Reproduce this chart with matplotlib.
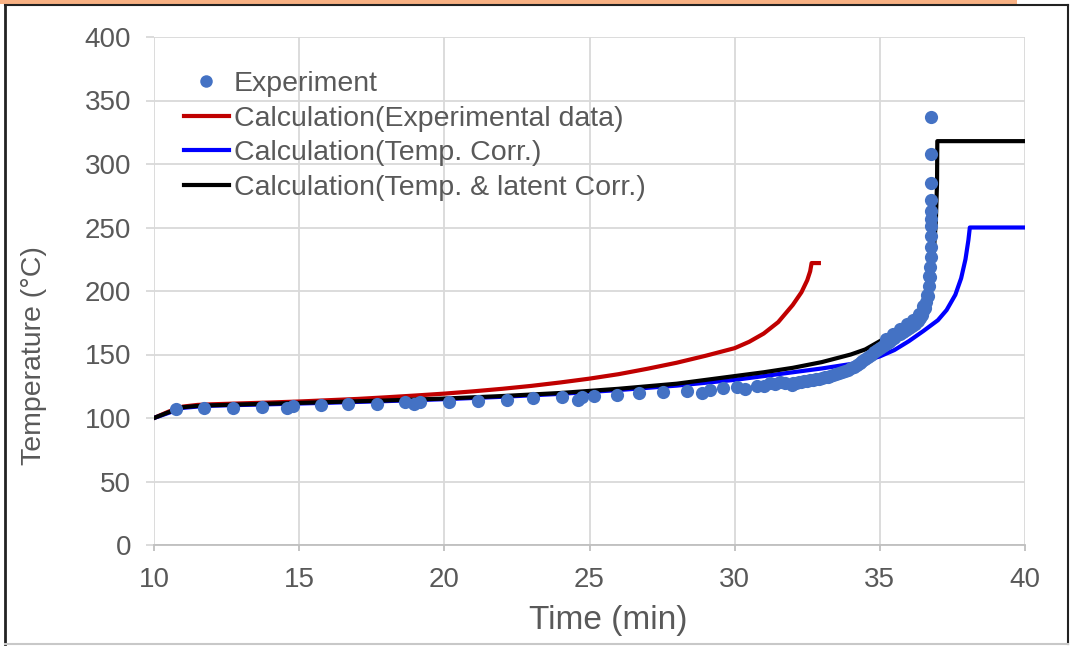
import matplotlib.pyplot as plt
from matplotlib.patches import Rectangle
from matplotlib.lines import Line2D

# Experiment (time in min, temperature in degC)
exp_time = [10.75, 11.73, 12.73, 13.73, 14.57, 14.80, 15.75, 16.69, 17.69, 18.64,
            18.95, 19.16, 20.16, 21.15, 22.15, 23.06, 24.04, 24.61, 24.73, 25.15,
            25.96, 26.70, 27.54, 28.35, 28.86, 29.15, 29.59, 30.07, 30.36, 30.76,
            31.00, 31.22, 31.40, 31.56, 31.75, 31.97,
            32.0, 32.1, 32.2, 32.3, 32.4, 32.5, 32.6, 32.7, 32.8, 32.9,
            33.0, 33.1, 33.2, 33.3, 33.4, 33.5, 33.6, 33.7, 33.8, 33.9,
            34.0, 34.1, 34.2, 34.3, 34.4, 34.5, 34.6, 34.7, 34.8, 34.9,
            35.0, 35.1, 35.2, 35.3, 35.4, 35.5, 35.6, 35.7, 35.8, 35.9,
            36.0, 36.1, 36.2, 36.3, 36.4, 36.45, 36.5, 36.55, 36.6, 36.65,
            36.7, 36.72, 36.74, 36.75, 36.76, 36.77, 36.77, 36.77, 36.77, 36.77,
            36.77, 36.77, 36.77,
            35.2, 35.45, 35.7, 35.95, 36.15, 36.35, 36.5, 36.62, 36.7]
exp_temp = [106.8, 107.6, 107.6, 108.4, 107.6, 109.4, 110.2, 111.0, 111.0, 112.3,
            111.0, 112.3, 112.8, 113.6, 114.2, 115.5, 116.3, 114.2, 116.8, 117.6,
            118.5, 119.5, 120.7, 121.5, 119.5, 122.0, 123.3, 124.2, 122.6, 125.2,
            125.5, 127.3, 127.0, 128.6, 127.5, 126.0,
            127.5, 127.9, 128.3, 128.7, 129.1, 129.5, 129.9, 130.3, 130.7, 131.1,
            131.5, 132.0, 132.5, 133.0, 133.7, 134.5, 135.3, 136.2, 137.1, 138.0,
            139.0, 140.2, 141.5, 143.0, 145.0, 146.7, 148.4, 150.0, 152.0, 153.5,
            155.0, 156.8, 158.5, 160.0, 161.7, 163.3, 165.0, 166.5, 168.0, 169.5,
            171.0, 172.5, 174.0, 176.0, 179.0, 181.0, 184.0, 187.0, 191.0, 196.0,
            204.0, 211.0, 219.0, 227.0, 235.0, 243.0, 251.0, 257.0, 263.0, 272.0,
            285.0, 308.0, 337.0,
            162.0, 166.0, 170.0, 174.0, 177.5, 181.5, 188.0, 197.0, 212.0]

# Calculation (Experimental data)
red_time = [10.0, 10.5, 11.0, 11.5, 12.0, 13.0, 14.0, 15.0, 16.0, 17.0, 18.0, 19.0,
            20.0, 21.0, 22.0, 23.0, 24.0, 25.0, 26.0, 27.0, 28.0, 29.0, 30.0, 30.5,
            31.0, 31.5, 32.0, 32.3, 32.5, 32.6, 32.65, 32.9]
red_temp = [100.0, 105.0, 109.0, 110.3, 110.8, 111.5, 112.2, 113.0, 114.0, 115.0, 116.3, 117.7,
            119.2, 121.0, 123.0, 125.3, 128.0, 131.0, 134.5, 138.8, 143.5, 149.0, 155.0, 160.0,
            166.5, 175.5, 189.0, 199.0, 208.5, 215.5, 222.0, 222.0]

# Calculation (Temp. Corr.)
blue_time = [10.0, 10.5, 11.0, 11.5, 12.0, 14.0, 16.0, 18.0, 20.0, 22.0, 24.0, 26.0,
             28.0, 30.0, 31.0, 32.0, 33.0, 34.0, 34.5, 35.0, 35.5, 36.0, 36.5, 37.0,
             37.3, 37.6, 37.8, 37.95, 38.05, 38.1, 40.0]
blue_temp = [100.0, 104.0, 108.0, 109.0, 109.7, 110.8, 112.0, 113.3, 114.8, 116.7, 119.0, 122.0,
             125.5, 130.0, 133.0, 136.0, 139.0, 142.5, 145.0, 148.5, 153.5, 160.5, 168.5, 177.0,
             185.0, 197.0, 210.0, 225.0, 240.0, 250.0, 250.0]

# Calculation (Temp. & latent Corr.)
black_time = [10.0, 10.5, 11.0, 11.5, 12.0, 14.0, 16.0, 18.0, 20.0, 22.0, 24.0, 26.0,
              28.0, 30.0, 31.0, 32.0, 33.0, 34.0, 34.5, 35.0, 35.5, 36.0, 36.3, 36.5,
              36.7, 36.85, 36.93, 36.97, 36.98, 40.0]
black_temp = [100.0, 104.5, 108.5, 109.5, 110.0, 111.3, 112.5, 113.8, 115.3, 117.3, 119.7, 123.0,
              127.0, 133.0, 136.0, 139.5, 144.0, 150.0, 154.0, 160.5, 167.0, 175.0, 180.0, 186.0,
              202.0, 228.0, 255.0, 285.0, 318.0, 318.0]

labels = ['Experiment', 'Calculation(Experimental data)',
          'Calculation(Temp. Corr.)', 'Calculation(Temp. & latent Corr.)']

W, H = 1073, 646
txt = '#595959'
plt.rcParams['font.family'] = ['Liberation Sans', 'DejaVu Sans']

fig = plt.figure(figsize=(W / 100, H / 100), dpi=100)
ax = fig.add_axes([154 / W, (H - 545) / H, 871 / W, 508 / H])

ax.plot(red_time, red_temp, color='#C00000', lw=3, zorder=3)
ax.plot(blue_time, blue_temp, color='#0000FF', lw=3, zorder=3)
ax.plot(black_time, black_temp, color='black', lw=3, zorder=4)
ax.plot(exp_time, exp_temp, 'o', color='#4472C4', ms=9.5, mec='none', zorder=5)

ax.set_xlim(10, 40)
ax.set_ylim(0, 400)
ax.set_xticks(range(10, 41, 5))
ax.set_yticks(range(0, 401, 50))
ax.grid(True, color='#D9D9D9', lw=1.3)
ax.set_axisbelow(True)
for s in ['top', 'right', 'left']:
    ax.spines[s].set_visible(False)
ax.spines['bottom'].set_color('#BFBFBF')
ax.spines['bottom'].set_linewidth(1.3)
ax.tick_params(axis='x', colors='#BFBFBF', length=4.5, width=1.3, pad=11,
               labelsize=20, labelcolor=txt)
ax.tick_params(axis='y', colors='#D9D9D9', length=5.5, width=1.3, pad=11,
               labelsize=20, labelcolor=txt)

fig.text(34 / W, 1 - 356 / H, 'Temperature (\u00b0C)', rotation=90, ha='center', va='center',
         fontsize=20.5, color=txt)
fig.text(608 / W, 1 - 620 / H, 'Time (min)', ha='center', va='center', fontsize=24, color=txt)

handles = [Line2D([], [], ls='none', marker='o', ms=9, color='#4472C4', mec='none'),
           Line2D([], [], color='#C00000', lw=3),
           Line2D([], [], color='#0000FF', lw=3),
           Line2D([], [], color='black', lw=3)]
ax.legend(handles, labels, loc='upper left', bbox_to_anchor=(0.021, 0.955), frameon=False,
          fontsize=20.5, labelcolor=txt, handlelength=1.6, handletextpad=0.15,
          labelspacing=0.30, borderaxespad=0)

# frame around the chart and the orange strip at the top
fig.patches.append(Rectangle((0, 1 - 4 / H), 1017 / W, 4 / H, transform=fig.transFigure,
                             facecolor='#F8B183', edgecolor='none'))
fig.add_artist(Line2D([4.5 / W, 1068 / W], [1 - 4.5 / H, 1 - 4.5 / H], color='#222222', lw=1.5))
fig.add_artist(Line2D([4.5 / W, 4.5 / W], [1 - 4.5 / H, 1 - 644 / H], color='#222222', lw=2))
fig.add_artist(Line2D([1068 / W, 1068 / W], [1 - 4.5 / H, 1 - 644 / H], color='#222222', lw=1.5))
fig.add_artist(Line2D([4.5 / W, 1068 / W], [1 - 644 / H, 1 - 644 / H], color='#C8C8C8', lw=1.5))

fig.savefig('out.png', dpi=100)
